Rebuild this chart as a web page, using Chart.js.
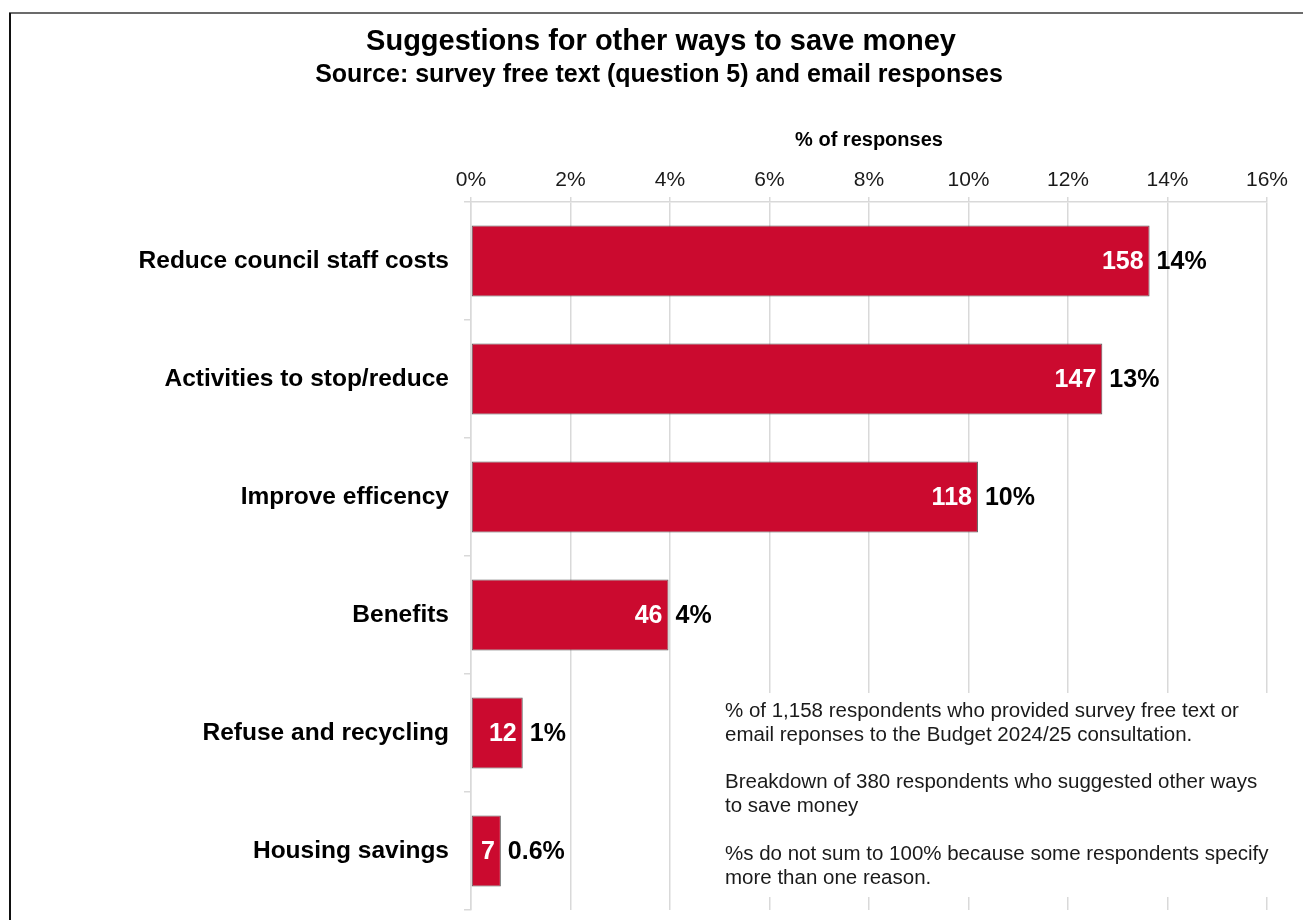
<!DOCTYPE html>
<html>
<head>
<meta charset="utf-8">
<title>Suggestions for other ways to save money</title>
<script src="https://cdn.jsdelivr.net/npm/chart.js@4.4.1/dist/chart.umd.min.js"></script>
<style>
  html, body { margin: 0; padding: 0; background: #fff; }
  #wrap { width: 1303px; height: 920px; position: relative; }
</style>
</head>
<body>
<div id="wrap"><canvas id="chart" width="1303" height="920"></canvas></div>
<script>
// data
var categories = ['Reduce council staff costs', 'Activities to stop/reduce', 'Improve efficency', 'Benefits', 'Refuse and recycling', 'Housing savings'];
var counts = [158, 147, 118, 46, 12, 7];
var percentValues = [13.64, 12.69, 10.19, 3.97, 1.04, 0.60];
var percentLabels = ['14%', '13%', '10%', '4%', '1%', '0.6%'];
var xTicks = [0, 2, 4, 6, 8, 10, 12, 14, 16];
var titleText = 'Suggestions for other ways to save money';
var subtitleText = 'Source: survey free text (question 5) and email responses';
var noteLines = [
  '% of 1,158 respondents who provided survey free text or',
  'email reponses to the Budget 2024/25 consultation.',
  '',
  'Breakdown of 380 respondents who suggested other ways',
  'to save money',
  '',
  '%s do not sum to 100% because some respondents specify',
  'more than one reason.'
];

var FONT = '"Liberation Sans", Arial, Helvetica, sans-serif';
var gridColor = '#d9d9d9';

// white background, frame lines and the two heading lines
const framePlugin = {
  id: 'frame',
  beforeDraw(chart) {
    const ctx = chart.ctx;
    ctx.save();
    ctx.fillStyle = '#fff';
    ctx.fillRect(0, 0, chart.width, chart.height);
    ctx.lineWidth = 2;
    ctx.strokeStyle = '#6b6b6b';
    ctx.beginPath();
    ctx.moveTo(9, 13);
    ctx.lineTo(chart.width, 13);
    ctx.stroke();
    ctx.strokeStyle = '#111';
    ctx.beginPath();
    ctx.moveTo(10, 13);
    ctx.lineTo(10, chart.height);
    ctx.stroke();

    ctx.fillStyle = '#000';
    ctx.textAlign = 'center';
    ctx.textBaseline = 'middle';
    ctx.font = 'bold 29px ' + FONT;
    ctx.fillText(titleText, 661, 42);
    ctx.font = 'bold 25px ' + FONT;
    ctx.fillText(subtitleText, 659, 75);
    ctx.restore();
  }
};

// count inside the bar end, percentage after it
const barLabels = {
  id: 'barLabels',
  afterDatasetsDraw(chart) {
    const ctx = chart.ctx;
    const meta = chart.getDatasetMeta(0);
    ctx.save();
    ctx.font = 'bold 25px ' + FONT;
    ctx.textBaseline = 'middle';
    meta.data.forEach(function (bar, i) {
      ctx.fillStyle = '#fff';
      ctx.textAlign = 'right';
      ctx.fillText(String(counts[i]), bar.x - 6, bar.y + 1);
      ctx.fillStyle = '#000';
      ctx.textAlign = 'left';
      ctx.fillText(percentLabels[i], bar.x + 7, bar.y + 1);
    });
    ctx.restore();
  }
};

// note box in the lower right of the plot
const notePlugin = {
  id: 'note',
  afterDraw(chart) {
    const ctx = chart.ctx;
    const area = chart.chartArea;
    const left = area.left + 244;
    const top = area.bottom - 217;
    ctx.save();
    ctx.fillStyle = '#fff';
    ctx.fillRect(left - 8, top, area.right - left + 30, 204);
    ctx.fillStyle = '#1a1a1a';
    ctx.font = '20.5px ' + FONT;
    ctx.textAlign = 'left';
    ctx.textBaseline = 'middle';
    noteLines.forEach(function (line, i) {
      if (line) ctx.fillText(line, left + 10, top + 18 + i * 23.9);
    });
    ctx.restore();
  }
};

const config = {
  type: 'bar',
  data: {
    labels: categories,
    datasets: [{
      data: percentValues,
      backgroundColor: '#CB0A2F',
      borderColor: '#5a5a5a',
      borderWidth: 1,
      borderSkipped: false,
      barPercentage: 0.6,
      categoryPercentage: 1.0
    }]
  },
  options: {
    indexAxis: 'y',
    responsive: false,
    animation: false,
    layout: { padding: { top: 88.2, left: 20, right: 36, bottom: 10 } },
    plugins: {
      legend: { display: false },
      tooltip: { enabled: false },
      title: { display: false }
    },
    scales: {
      x: {
        position: 'top',
        min: 0,
        max: 16,
        afterBuildTicks: function (scale) {
          scale.ticks = xTicks.map(function (v) { return { value: v }; });
        },
        afterFit: function (scale) { scale.height = 113.8; },
        ticks: {
          color: '#1a1a1a',
          font: { family: FONT, size: 21 },
          padding: 4,
          callback: function (v) { return v + '%'; }
        },
        grid: { color: gridColor, lineWidth: 1.5, tickLength: 5 },
        border: { color: gridColor, width: 1.5 },
        title: {
          display: true,
          text: '% of responses',
          color: '#000',
          font: { family: FONT, size: 20, weight: 'bold' },
          padding: { top: 40, bottom: 0 }
        }
      },
      y: {
        afterFit: function (scale) {
          scale.width = 451;
          scale.paddingTop = 0;
          scale.paddingBottom = 0;
        },
        ticks: {
          color: '#000',
          font: { family: FONT, size: 24.5, weight: 'bold' },
          padding: 15
        },
        grid: { drawOnChartArea: false, color: gridColor, lineWidth: 1.5, tickLength: 7 },
        border: { color: gridColor, width: 1.5 }
      }
    }
  },
  plugins: [framePlugin, barLabels, notePlugin]
};

var myChart = new Chart(document.getElementById('chart'), config);
</script>
</body>
</html>
